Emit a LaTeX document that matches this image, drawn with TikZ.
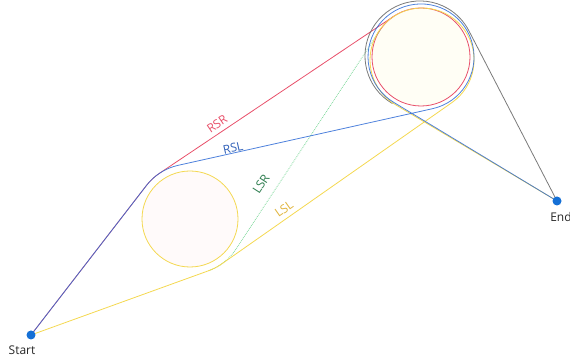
\documentclass[tikz,border=0pt]{standalone}
\usepackage{fontspec}
\setmainfont{Open Sans}
\usetikzlibrary{positioning}
\definecolor{rsrred}{HTML}{E8506A}
\definecolor{rslblue}{HTML}{2F6BD6}
\definecolor{rsltext}{HTML}{2F5FB8}
\definecolor{lsrgreen}{HTML}{7FD99B}
\definecolor{lsrtext}{HTML}{2E7D4F}
\definecolor{lslyellow}{HTML}{F4D850}
\definecolor{lsltext}{HTML}{E0B43C}
\definecolor{dotblue}{HTML}{1570D6}
\definecolor{exitgray}{HTML}{7A7A7A}

\begin{document}
\begin{tikzpicture}[x=1pt, y=1pt,
  trk/.style={line width=0.8pt},
  lbl/.style={font=\fontsize{12}{14}\selectfont, inner sep=0pt},
  waypt/.style={circle, fill=dotblue, inner sep=0pt, minimum size=9pt}]
  \useasboundingbox (0,0) rectangle (570,361);
  % turning circles
  \begin{scope}[line width=0.8pt]
    \filldraw[fill=red!2, draw=lslyellow] (190,142) circle (48pt);
    \filldraw[fill=yellow!4, draw=rsrred] (421,304) circle (49pt);
  \end{scope}
  % end points and tangent points
  \coordinate (s) at (31,26);
  \coordinate (e) at (557,160);
  \coordinate (ra) at (146.5,175.6);
  \coordinate (la) at (208.7,90.3);
  \coordinate (rsrb) at (393.7,344.7);
  \coordinate (rslb) at (432.5,252.3);
  \coordinate (lsrb) at (380.1,331.0);
  \coordinate (lslb) at (451.9,258.4);
  \coordinate (gy) at (392.5,257.4);
  % paths
  \draw[trk, rsrred] (s) -- (ra) arc[start angle=142.3, end angle=123.8, radius=55pt] -- (rsrb);
  \draw[trk, lsrgreen, densely dotted] (la) arc[start angle=-70.1, end angle=-33.4, radius=55pt] -- (lsrb);
  \draw[trk, exitgray] (gy) arc[start angle=240, end angle=27.4, radius=55pt] -- (e);
  \draw[trk, lslyellow] (s) -- (la) arc[start angle=-70.1, end angle=-54.96, radius=55pt] -- (lslb)
    arc[start angle=-54.96, end angle=239.25, radius=52pt] -- (e);
  \draw[trk, rslblue, opacity=.85] (s) -- (ra) arc[start angle=142.3, end angle=102.5, radius=55pt] -- (rslb)
    arc[start angle=-77.5, end angle=238.9, radius=53pt] -- (e);
  % labels
  \node[lbl, rsrred, rotate=34] (rsrlbl) at (217,237) {RSR};
  \node[lbl, rsltext, rotate=12.5] (rsllbl) at (233,213) {RSL};
  \node[lbl, lsrtext, rotate=57] (lsrlbl) at (261,177) {LSR};
  \node[lbl, lsltext, rotate=35] (lsllbl) at (284,152) {LSL};
  \node[waypt] (start) at (s) {};
  \node[waypt] (end) at (e) {};
  \node[lbl, black!85] (startlbl) at (22,11) {Start};
  \node[lbl, black!85] (endlbl) at (561,144) {End};
\end{tikzpicture}
\end{document}
